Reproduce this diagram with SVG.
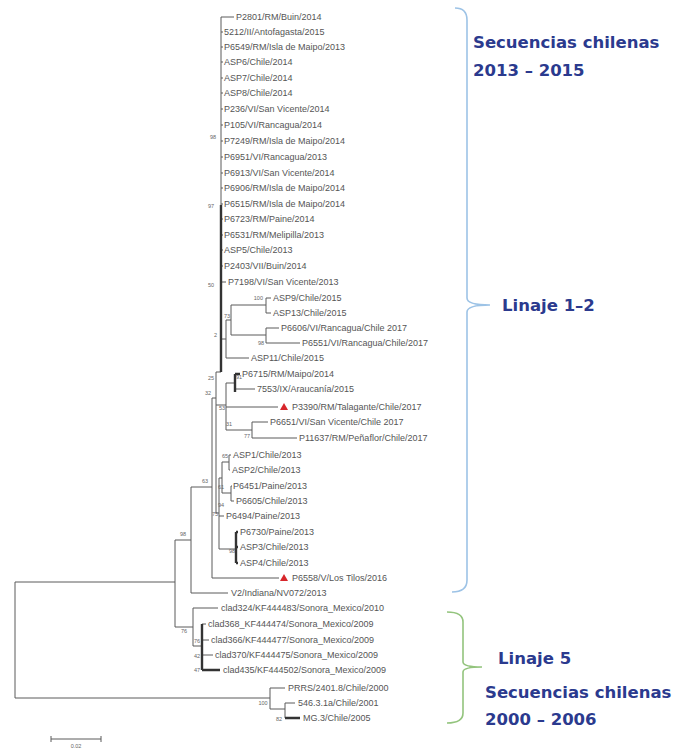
<svg xmlns="http://www.w3.org/2000/svg" width="683" height="751" viewBox="0 0 683 751">
<style>
.b{stroke:#5a5a5a;stroke-width:1;fill:none}
.t{stroke:#333;stroke-width:2.4;fill:none}
.lf{font-family:"Liberation Sans",Arial,sans-serif;font-size:9px;fill:#555}
.bs{font-family:"Liberation Sans",Arial,sans-serif;font-size:5.5px;fill:#666}
.lab{font-family:"DejaVu Sans",Verdana,sans-serif;font-size:16.5px;font-weight:bold;fill:#2b3a8e}
.tri{fill:#d7262b}
</style>
<rect width="683" height="751" fill="#fff"/>
<g id="connectors">
<path class="b" d="M15,582V698M15,582H175M15,698H270
M175,540V627M175,540H191M175,627H193
M191,487V593M191,487H212M191,593H228
M212,398V578M212,398H216M212,578H279
M216,372V513M216,372H221M216,405H226M216,513H219
M221,17V205
M221,17H234M221,32H223M221,47H223M221,62H223M221,78H223M221,93H223M221,109H223M221,125H223M221,141H223M221,157H223M221,173H223M221,188H223M221,204H223M221,219H223M221,235H223M221,250H223M221,266H223M221,282H226
M221,339H226M226,320V358M226,320H231M226,358H249
M231,305V335M231,305H266M231,335H266
M266,298V313M266,298H271M266,313H271
M266,328V343M266,328H279M266,343H300
M226,383V430M226,383H235M226,407H278M226,430H252
M235,389H255
M252,422V438M252,422H268M252,438H297
M219,478V549M219,478H222M219,516H224M219,549H236
M222,462V493M222,462H229M222,493H231
M229,455V470M229,455H231M229,470H230
M231,486V501M231,486H232M231,501H234
M193,608V646M193,608H218M193,646H202
M202,624H206M202,640H209M202,655H213
M270,688V709M270,688H285M270,709H285
M285,703V718M285,703H295"/>
<path class="t" d="M221,205V372M235,374V392M235,374H240M236,532V563M236,532H238M236,547H238M236,563H238M202,624V670M202,670H220M285,718H300"/>
<path class="b" d="M51,739H101M51,736V742M101,736V742"/>
</g>
<g id="bootstrap">
<text class="bs" x="216" y="139" text-anchor="end">98</text>
<text class="bs" x="214" y="208" text-anchor="end">97</text>
<text class="bs" x="214" y="287" text-anchor="end">50</text>
<text class="bs" x="263" y="300" text-anchor="end">100</text>
<text class="bs" x="230" y="318" text-anchor="end">73</text>
<text class="bs" x="217" y="337" text-anchor="end">2</text>
<text class="bs" x="264" y="345" text-anchor="end">98</text>
<text class="bs" x="214" y="380" text-anchor="end">25</text>
<text class="bs" x="236" y="379">91</text>
<text class="bs" x="211" y="395" text-anchor="end">32</text>
<text class="bs" x="225" y="410" text-anchor="end">53</text>
<text class="bs" x="232" y="426" text-anchor="end">31</text>
<text class="bs" x="250" y="438" text-anchor="end">77</text>
<text class="bs" x="228" y="458" text-anchor="end">65</text>
<text class="bs" x="224" y="489" text-anchor="end">61</text>
<text class="bs" x="224" y="507" text-anchor="end">94</text>
<text class="bs" x="218" y="516" text-anchor="end">75</text>
<text class="bs" x="205" y="483" text-anchor="middle">63</text>
<text class="bs" x="232" y="553" text-anchor="middle">98</text>
<text class="bs" x="183" y="536" text-anchor="middle">98</text>
<text class="bs" x="184" y="633" text-anchor="middle">76</text>
<text class="bs" x="200" y="643" text-anchor="end">76</text>
<text class="bs" x="200" y="658" text-anchor="end">42</text>
<text class="bs" x="200" y="672" text-anchor="end">47</text>
<text class="bs" x="263" y="705" text-anchor="middle">100</text>
<text class="bs" x="279" y="721" text-anchor="middle">82</text>
<text class="bs" x="76" y="748" text-anchor="middle">0.02</text>
</g>
<g id="n1"><text class="lf" x="236" y="20">P2801/RM/Buin/2014</text></g>
<g id="n2"><text class="lf" x="224" y="35">5212/II/Antofagasta/2015</text></g>
<g id="n3"><text class="lf" x="224" y="50">P6549/RM/Isla de Maipo/2013</text></g>
<g id="n4"><text class="lf" x="224" y="65">ASP6/Chile/2014</text></g>
<g id="n5"><text class="lf" x="224" y="81">ASP7/Chile/2014</text></g>
<g id="n6"><text class="lf" x="224" y="96">ASP8/Chile/2014</text></g>
<g id="n7"><text class="lf" x="224" y="112">P236/VI/San Vicente/2014</text></g>
<g id="n8"><text class="lf" x="224" y="128">P105/VI/Rancagua/2014</text></g>
<g id="n9"><text class="lf" x="224" y="144">P7249/RM/Isla de Maipo/2014</text></g>
<g id="n10"><text class="lf" x="224" y="160">P6951/VI/Rancagua/2013</text></g>
<g id="n11"><text class="lf" x="224" y="176">P6913/VI/San Vicente/2014</text></g>
<g id="n12"><text class="lf" x="224" y="191">P6906/RM/Isla de Maipo/2014</text></g>
<g id="n13"><text class="lf" x="224" y="207">P6515/RM/Isla de Maipo/2014</text></g>
<g id="n14"><text class="lf" x="224" y="222">P6723/RM/Paine/2014</text></g>
<g id="n15"><text class="lf" x="224" y="238">P6531/RM/Melipilla/2013</text></g>
<g id="n16"><text class="lf" x="224" y="253">ASP5/Chile/2013</text></g>
<g id="n17"><text class="lf" x="224" y="269">P2403/VII/Buin/2014</text></g>
<g id="n18"><text class="lf" x="228" y="285">P7198/VI/San Vicente/2013</text></g>
<g id="n19"><text class="lf" x="273" y="301">ASP9/Chile/2015</text></g>
<g id="n20"><text class="lf" x="273" y="316">ASP13/Chile/2015</text></g>
<g id="n21"><text class="lf" x="281" y="331">P6606/VI/Rancagua/Chile 2017</text></g>
<g id="n22"><text class="lf" x="302" y="346">P6551/VI/Rancagua/Chile/2017</text></g>
<g id="n23"><text class="lf" x="251" y="361">ASP11/Chile/2015</text></g>
<g id="n24"><text class="lf" x="242" y="377">P6715/RM/Maipo/2014</text></g>
<g id="n25"><text class="lf" x="257" y="392">7553/IX/Araucanía/2015</text></g>
<g id="n26"><path class="tri" d="M284,403L288,410H280Z"/><text class="lf" x="292" y="410">P3390/RM/Talagante/Chile/2017</text></g>
<g id="n27"><text class="lf" x="270" y="425">P6651/VI/San Vicente/Chile 2017</text></g>
<g id="n28"><text class="lf" x="299" y="441">P11637/RM/Peñaflor/Chile/2017</text></g>
<g id="n29"><text class="lf" x="233" y="458">ASP1/Chile/2013</text></g>
<g id="n30"><text class="lf" x="232" y="473">ASP2/Chile/2013</text></g>
<g id="n31"><text class="lf" x="233" y="489">P6451/Paine/2013</text></g>
<g id="n32"><text class="lf" x="236" y="504">P6605/Chile/2013</text></g>
<g id="n33"><text class="lf" x="226" y="519">P6494/Paine/2013</text></g>
<g id="n34"><text class="lf" x="240" y="535">P6730/Paine/2013</text></g>
<g id="n35"><text class="lf" x="240" y="550">ASP3/Chile/2013</text></g>
<g id="n36"><text class="lf" x="240" y="566">ASP4/Chile/2013</text></g>
<g id="n37"><path class="tri" d="M284,574L288,581H280Z"/><text class="lf" x="292" y="581">P6558/V/Los Tilos/2016</text></g>
<g id="n38"><text class="lf" x="231" y="596">V2/Indiana/NV072/2013</text></g>
<g id="n39"><text class="lf" x="221" y="611">clad324/KF444483/Sonora_Mexico/2010</text></g>
<g id="n40"><text class="lf" x="208" y="627">clad368_KF444474/Sonora_Mexico/2009</text></g>
<g id="n41"><text class="lf" x="211" y="643">clad366/KF444477/Sonora_Mexico/2009</text></g>
<g id="n42"><text class="lf" x="215" y="658">clad370/KF444475/Sonora_Mexico/2009</text></g>
<g id="n43"><text class="lf" x="223" y="673">clad435/KF444502/Sonora_Mexico/2009</text></g>
<g id="n44"><text class="lf" x="288" y="691">PRRS/2401.8/Chile/2000</text></g>
<g id="n45"><text class="lf" x="298" y="706">546.3.1a/Chile/2001</text></g>
<g id="n46"><text class="lf" x="303" y="721">MG.3/Chile/2005</text></g>
<g id="brackets">
<path d="M455,8Q467,8 467,20V298Q467,305 490,305Q467,305 467,312V580Q467,592 452,592" fill="none" stroke="#9dc3e6" stroke-width="1.6"/>
<path d="M447,612Q463,612 463,622V662Q463,667 482,667Q463,667 463,672V713Q463,723 447,723" fill="none" stroke="#93c47d" stroke-width="1.6"/>
</g>
<g id="labels">
<text class="lab" x="473" y="48">Secuencias chilenas</text>
<text class="lab" x="473" y="76">2013 – 2015</text>
<text class="lab" x="502" y="311">Linaje 1–2</text>
<text class="lab" x="498" y="664">Linaje 5</text>
<text class="lab" x="485" y="698">Secuencias chilenas</text>
<text class="lab" x="485" y="725">2000 – 2006</text>
</g>
</svg>
